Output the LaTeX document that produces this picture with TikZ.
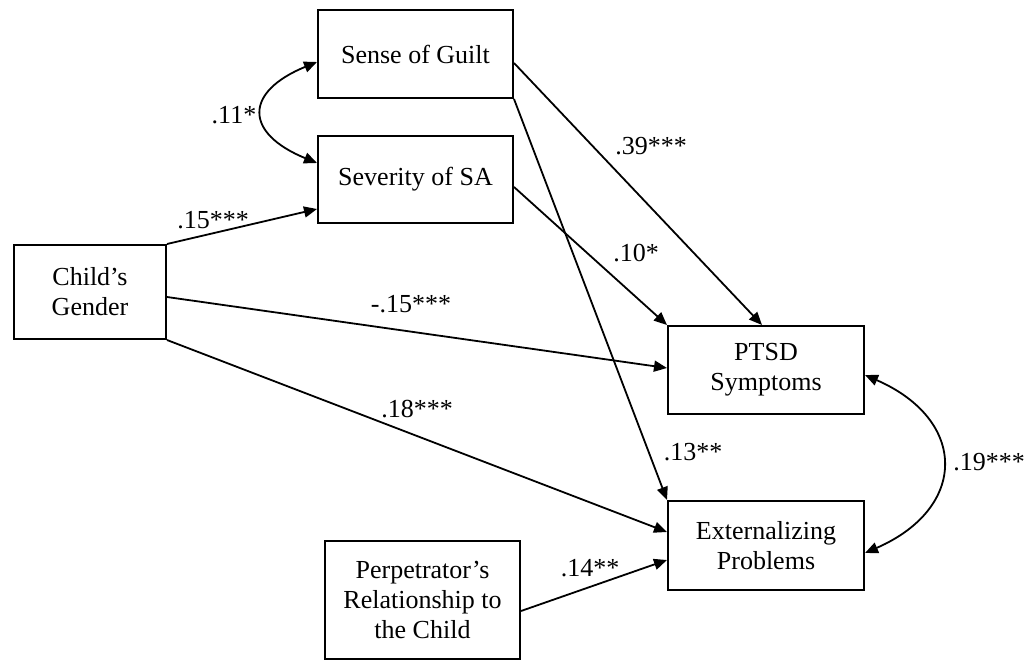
\documentclass[tikz,border=0pt]{standalone}
\usepackage{fontspec}
\setmainfont{Liberation Serif}
\usetikzlibrary{arrows.meta}
\begin{document}
\begin{tikzpicture}[x=1pt,y=-1pt,
  box/.style={draw,line width=2pt,rectangle,inner sep=0pt,align=center,
    font=\fontsize{26}{30}\selectfont},
  lbl/.style={inner sep=0pt,font=\fontsize{26}{30}\selectfont},
  path/.style={line width=1.8pt,-{Triangle[length=13pt,width=11pt]}},
  cov/.style={line width=1.8pt,{Triangle[length=13pt,width=11pt]}-{Triangle[length=13pt,width=11pt]}}]
\useasboundingbox (0,0) rectangle (1031,661);
\node[box,minimum width=195pt,minimum height=88pt] (guilt) at (415.5,54) {Sense of Guilt};
\node[box,minimum width=195pt,minimum height=87pt] (sev) at (415.5,179.5) {Severity of SA};
\node[box,minimum width=152pt,minimum height=94pt] (gender) at (90,292) {Child's\\Gender};
\node[box,minimum width=196pt,minimum height=88pt] (ptsd) at (766,370) {PTSD\\Symptoms};
\node[box,minimum width=196pt,minimum height=89pt] (ext) at (766,545.5) {Externalizing\\Problems};
\node[box,minimum width=195pt,minimum height=118pt] (perp) at (422.5,600) {Perpetrator's\\Relationship to\\the Child};

\draw[path] (gender.north east) -- (sev.west |- 0,209);
\draw[path] (gender.east |- 0,297) -- (ptsd.west |- 0,368);
\draw[path] (gender.south east) -- (ext.west |- 0,532);
\draw[path] (perp.east |- 0,611) -- (ext.west |- 0,560);
\draw[path] (guilt.east |- 0,63) -- (ptsd.north -| 762,0);
\draw[path] (guilt.south east) -- (ext.north west);
\draw[path] (sev.east |- 0,187) -- (ptsd.north west);
\draw[cov] (guilt.west |- 0,62) .. controls (244,92) and (244,133) .. (sev.west |- 0,163);
\draw[cov] (ptsd.east |- 0,375) .. controls (968,420) and (968,508) .. (ext.east |- 0,553);

\node[lbl] (l11) at (234,115) {.11*};
\node[lbl] (l15a) at (213,220) {.15***};
\node[lbl] (l39) at (651,146) {.39***};
\node[lbl] (l10) at (636,253) {.10*};
\node[lbl] (l15b) at (411,304) {-.15***};
\node[lbl] (l18) at (417,409) {.18***};
\node[lbl] (l13) at (693,452) {.13**};
\node[lbl] (l19) at (989,462) {.19***};
\node[lbl] (l14) at (590,568) {.14**};
\end{tikzpicture}
\end{document}
